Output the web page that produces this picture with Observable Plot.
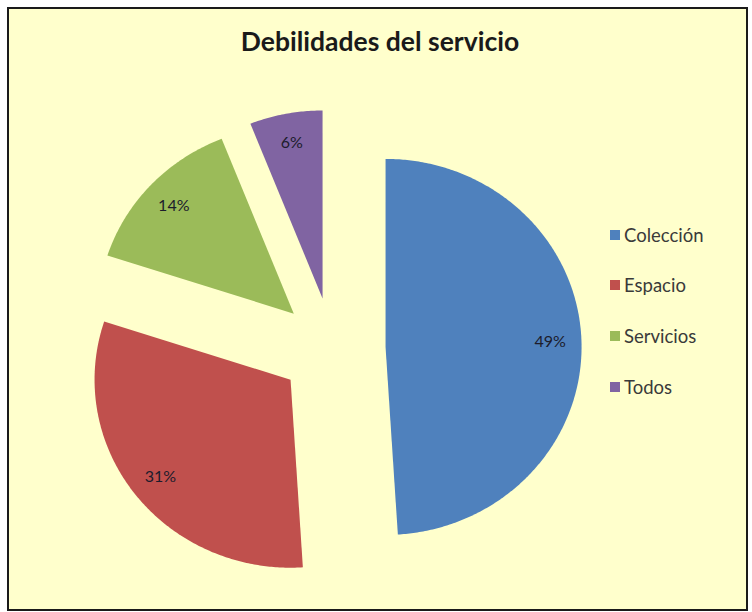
<!DOCTYPE html>
<html><head><meta charset="utf-8">
<script src="https://cdn.jsdelivr.net/npm/d3@7"></script>
<script src="https://cdn.jsdelivr.net/npm/@observablehq/plot@0.6"></script>
<style>
body{margin:0;background:#fff;}
#wrap{position:relative;width:752px;height:612px;overflow:hidden;font-family:Lato,"Open Sans",sans-serif;}
#frame{position:absolute;left:7px;top:7px;width:737px;height:600px;border:2px solid #1a1a1a;background:#ffffcc;}
#title{position:absolute;left:0;width:760px;top:25px;text-align:center;font-weight:bold;font-size:26.5px;color:#1a1a1a;}
#chart{position:absolute;left:0;top:0;}
.item{position:absolute;left:610px;font-size:18.5px;color:#3a3a3a;display:flex;align-items:center;height:22px;}
.sw{width:10px;height:10px;margin-right:4px;}
</style></head>
<body>
<div id="wrap"><div id="frame"></div><div id="title">Debilidades del servicio</div><div id="chart"></div></div>
<script>
const categories = ["Colección", "Espacio", "Servicios", "Todos"];
const values = [49, 31, 14, 6];
const labels = ["49%", "31%", "14%", "6%"];
const colors = ["#4f81bd", "#c0504d", "#9bbb59", "#8064a2"];

const W = 752, H = 612;
const CX = 332, CY = 348, RX = 196, RY = 188;
const explode = 52 / 192;
const labelR = 0.84;

const arcs = d3.pie().sort(null).value(d => d)(values);
const points = [];
const labelData = [];
arcs.forEach((a, i) => {
  const mid = (a.startAngle + a.endAngle) / 2;
  const ox = explode * Math.sin(mid), oy = -explode * Math.cos(mid);
  points.push({cat: categories[i], x: ox, y: oy});
  const n = Math.max(4, Math.ceil((a.endAngle - a.startAngle) / 0.01));
  for (let k = 0; k <= n; k++) {
    const t = a.startAngle + (a.endAngle - a.startAngle) * k / n;
    points.push({cat: categories[i], x: ox + Math.sin(t), y: oy - Math.cos(t)});
  }
  points.push({cat: categories[i], x: ox, y: oy});
  labelData.push({text: labels[i], x: ox + labelR * Math.sin(mid), y: oy - labelR * Math.cos(mid)});
});

const chart = Plot.plot({
  width: W, height: H,
  margin: 0,
  style: {background: "transparent"},
  x: {domain: [-CX / RX, (W - CX) / RX], range: [0, W], axis: null},
  y: {domain: [-CY / RY, (H - CY) / RY], range: [0, H], axis: null},
  color: {domain: categories, range: colors},
  marks: [
    Plot.line(points, {x: "x", y: "y", z: "cat", fill: "cat", stroke: "none", curve: "linear"}),
    Plot.text(labelData, {x: "x", y: "y", text: "text", fontSize: 16, fill: "#1c1c2c", fontFamily: "Lato, sans-serif"})
  ]
});
document.getElementById("chart").appendChild(chart);

const legendY = [235, 285, 336, 387];
categories.forEach((c, i) => {
  const el = document.createElement("div");
  el.className = "item";
  el.style.top = (legendY[i] - 11) + "px";
  el.innerHTML = `<span class="sw" style="background:${colors[i]}"></span><span>${c}</span>`;
  document.getElementById("wrap").appendChild(el);
});
</script>
</body></html>
